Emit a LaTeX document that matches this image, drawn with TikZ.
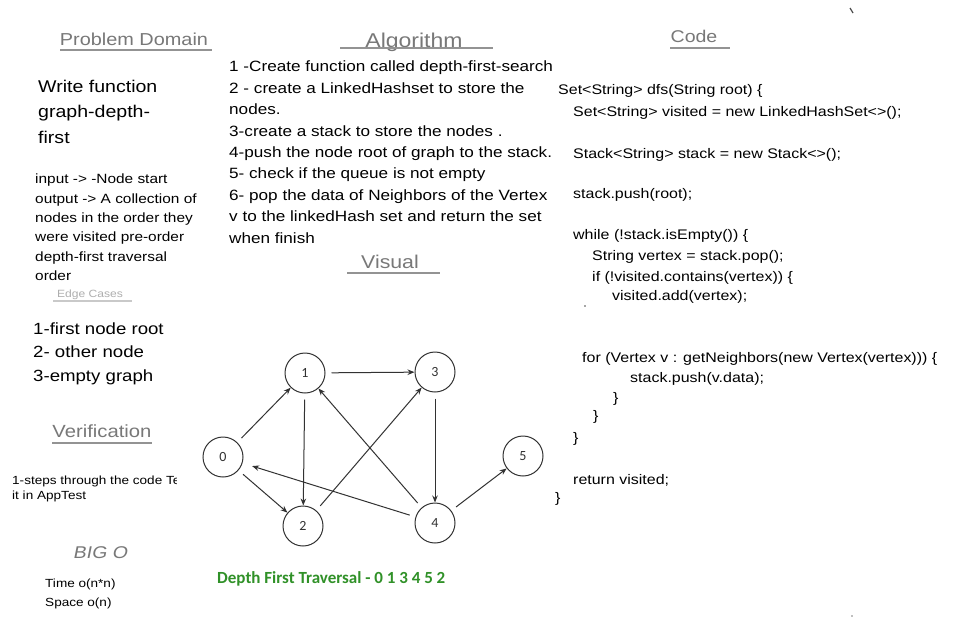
\documentclass[tikz,border=0pt]{standalone}
\usepackage{fontspec}
\setmainfont{Liberation Sans}
\newfontfamily\hand[FakeStretch=1.15]{Liberation Sans}
\newfontfamily\handsl[FakeStretch=1.15,FakeSlant=0.2]{Liberation Sans}
\newfontfamily\calib{Carlito}
\usetikzlibrary{arrows.meta}
\definecolor{dfsgreen}{RGB}{48,145,40}
\definecolor{headgray}{RGB}{120,120,120}
\definecolor{edgegray}{RGB}{50,50,50}
\tikzset{
  hw/.style={inner sep=0pt, anchor=west, text height=0.7em, text depth=0.2em, yshift=-3pt},
  alg/.style={hw, font=\hand\fontsize{14.9}{18}\selectfont},
  code/.style={hw, font=\hand\fontsize{13.9}{16}\selectfont},
  big/.style={hw, font=\hand\fontsize{17}{20}\selectfont},
  inp/.style={hw, font=\hand\fontsize{13.4}{16}\selectfont},
  lst/.style={hw, font=\hand\fontsize{16.2}{19}\selectfont},
  small/.style={hw, font=\hand\fontsize{11.8}{14}\selectfont},
  head/.style={inner sep=0pt, text=headgray, text height=0.7em, text depth=0.2em, yshift=-3pt},
  uline/.style={draw=headgray!80, line width=1.3pt},
  vert/.style={circle, draw=edgegray, line width=1pt, minimum size=40pt, inner sep=0pt,
               font=\calib\fontsize{14}{16}\selectfont, text=edgegray},
  edge/.style={draw=edgegray, line width=1pt, -{Stealth[length=7pt,width=5.5pt]}, shorten <=6pt}
}
\begin{document}
\begin{tikzpicture}[x=1pt,y=-1pt]
\useasboundingbox (0,0) rectangle (972,630);
\fill[white] (0,0) rectangle (972,630);

% ---------- Problem domain column ----------
\node[head, font=\hand\fontsize{17.3}{20}\selectfont] (hpd) at (134,40) {Problem Domain};
\draw[uline] (60,50) -- (212,50);
\node[big] (w1) at (38,87) {Write function};
\node[big] (w2) at (38,112) {graph-depth-};
\node[big] (w3) at (38,138) {first};
\node[inp] (i1) at (35,178) {input -> -Node start};
\node[inp] (i2) at (35,198) {output -> A collection of};
\node[inp] (i3) at (35,217) {nodes in the order they};
\node[inp] (i4) at (35,236) {were visited pre-order};
\node[inp] (i5) at (35,256) {depth-first traversal};
\node[inp] (i6) at (35,275) {order};
\node[head, text=headgray!60, font=\hand\fontsize{10.5}{12}\selectfont] (hec) at (90,292) {Edge Cases};
\draw[uline, draw=headgray!40] (53,301) -- (132,301);
\node[lst] (e1) at (33,329) {1-first node root};
\node[lst] (e2) at (33,352) {2- other node};
\node[lst] (e3) at (33,376) {3-empty graph};
\node[head, font=\hand\fontsize{17.6}{20}\selectfont] (hver) at (102,432) {Verification};
\draw[uline] (52,443) -- (152,443);
\begin{scope}
\clip (0,460) rectangle (176,510);
\node[small] (v1) at (12,479) {1-steps through the code Test};
\end{scope}
\node[small] (v2) at (12,494) {it in AppTest};
\node[head, font=\handsl\fontsize{17}{20}\selectfont] (hbig) at (100,553) {BIG O};
\node[small] (t1) at (45,582) {Time o(n*n)};
\node[small] (t2) at (45,601) {Space o(n)};

% ---------- Algorithm column ----------
\node[head, font=\hand\fontsize{20}{22}\selectfont] (halg) at (414,42) {Algorithm};
\draw[uline] (340,48) -- (493,48);
\node[alg] (a1) at (229,66) {1 -Create function called depth-first-search};
\node[alg] (a2) at (229,88) {2 - create a LinkedHashset to store the};
\node[alg] (a3) at (229,109) {nodes.};
\node[alg] (a4) at (229,131) {3-create a stack to store the nodes .};
\node[alg] (a5) at (229,152) {4-push the node root of graph to the stack.};
\node[alg] (a6) at (229,173) {5- check if the queue is not empty};
\node[alg] (a7) at (229,195) {6- pop the data of Neighbors of the Vertex};
\node[alg] (a8) at (229,216) {v to the linkedHash set and return the set};
\node[alg] (a9) at (229,238) {when finish};
\node[head, font=\hand\fontsize{18.5}{20}\selectfont] (hvis) at (390,263) {Visual};
\draw[uline] (347,273) -- (440,273);

% ---------- Code column ----------
\node[head, font=\hand\fontsize{17}{20}\selectfont] (hcode) at (694,37) {Code};
\draw[uline] (670,48) -- (730,48);
\node[code] (c1) at (558,89) {Set<String> dfs(String root) \{};
\node[code] (c2) at (573,111) {Set<String> visited = new LinkedHashSet<>();};
\node[code] (c3) at (573,153) {Stack<String> stack = new Stack<>();};
\node[code] (c4) at (573,193) {stack.push(root);};
\node[code] (c5) at (573,234) {while (!stack.isEmpty()) \{};
\node[code] (c6) at (592,255) {String vertex = stack.pop();};
\node[code] (c7) at (592,276) {if (!visited.contains(vertex)) \{};
\node[code] (c8) at (612,295) {visited.add(vertex);};
\fill[black!70] (585,306) circle (0.8pt);
\node[code] (c9) at (582,357) {for (Vertex v : getNeighbors(new Vertex(vertex))) \{};
\node[code] (c10) at (630,377) {stack.push(v.data);};
\node[code] (c11) at (613,397) {\}};
\node[code] (c12) at (593,415) {\}};
\node[code] (c13) at (573,437) {\}};
\node[code] (c14) at (573,479) {return visited;};
\node[code] (c15) at (555,497) {\}};

% ---------- Graph ----------
\node[vert] (n0) at (223,457) {0};
\node[vert] (n1) at (305,373) {1};
\node[vert] (n3) at (435,372) {3};
\node[vert] (n2) at (303,526) {2};
\node[vert] (n4) at (435,523) {4};
\node[vert] (n5) at (523,456) {5};
\draw[edge] (n0) -- (n1);
\draw[edge] (n0) -- (n2);
\draw[edge] (n1) -- (n3);
\draw[edge] (n1) -- (n2);
\draw[edge] (n2) -- (n3);
\draw[edge] (n3) -- (n4);
\draw[edge] (n4) -- (n1);
\draw[edge, shorten >=10pt] (n4) -- (n0);
\draw[edge] (n4) -- (n5);
\node[inner sep=0pt, anchor=west, text=dfsgreen, font=\calib\bfseries\fontsize{17}{19}\selectfont] (trav) at (217,579) {Depth First Traversal - 0 1 3 4 5 2};

% ---------- stray marks ----------
\draw[black!70, line width=1.2pt] (850,8) -- (853,13);
\fill[black!50] (852,616) circle (0.9pt);
\end{tikzpicture}
\end{document}
